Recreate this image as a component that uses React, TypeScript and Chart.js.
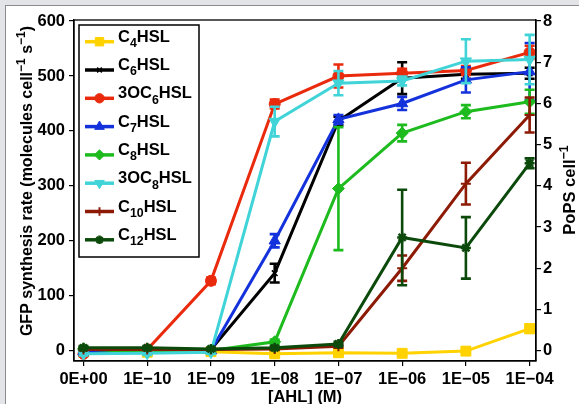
import React, { useEffect, useRef } from 'react';
import { Chart, registerables } from 'chart.js';
import { drawPoint } from 'chart.js/helpers';

Chart.register(...registerables);

// ---------- data ----------
const categories = ['0E+00', '1E−10', '1E−09', '1E−08', '1E−07', '1E−06', '1E−05', '1E−04'];
const yTicks = [0, 100, 200, 300, 400, 500, 600];
const y2Ticks = [0, 1, 2, 3, 4, 5, 6, 7, 8];

const seriesNames = ['C4HSL', 'C6HSL', '3OC6HSL', 'C7HSL', 'C8HSL', '3OC8HSL', 'C10HSL', 'C12HSL'];

const c4 = [-3, -3, -2, -6, -4, -5, -1, 40];
const c4Err = [3, 3, 2, 3, 4, 3, 3, 8];
const c6 = [2, 0, 2, 141, 418, 496, 503, 505];
const c6Err = [2, 2, 2, 17, 8, 29, 8, 10];
const oc6 = [-6, 2, 127, 449, 500, 505, 510, 543];
const oc6Err = [3, 3, 6, 8, 21, 8, 8, 12];
const c7 = [-2, 0, 0, 200, 421, 450, 493, 508];
const c7Err = [3, 3, 3, 12, 8, 12, 23, 52];
const c8 = [3, -3, 0, 16, 295, 396, 435, 453];
const c8Err = [3, 3, 2, 4, 112, 15, 12, 22];
const oc8 = [-6, -5, -3, 417, 487, 491, 527, 530];
const oc8Err = [3, 3, 3, 27, 22, 8, 40, 45];
const c10 = [2, 2, 2, 3, 8, 150, 304, 429];
const c10Err = [2, 2, 2, 2, 3, 23, 38, 32];
const c12 = [5, 5, 3, 5, 12, 206, 187, 341];
const c12Err = [3, 3, 2, 3, 4, 87, 56, 9];

const seriesValues = [c4, c6, oc6, c7, c8, oc8, c10, c12];
const seriesErrors = [c4Err, c6Err, oc6Err, c7Err, c8Err, oc8Err, c10Err, c12Err];

// ---------- styles ----------
const seriesStyles = [
  { color: '#FFD200', point: 'rect', radius: 7, rot: 0, bw: 1 },
  { color: '#000000', point: 'crossRot', radius: 4, rot: 0, bw: 1.6 },
  { color: '#EA2A0C', point: 'circle', radius: 5.5, rot: 0, bw: 1 },
  { color: '#1432DC', point: 'triangle', radius: 6.5, rot: 0, bw: 1 },
  { color: '#1EBB1E', point: 'rectRot', radius: 6, rot: 0, bw: 1 },
  { color: '#40D4D8', point: 'triangle', radius: 6.5, rot: 180, bw: 1 },
  { color: '#8C1A05', point: 'cross', radius: 5, rot: 0, bw: 2 },
  { color: '#0C4A0C', point: 'star', radius: 5, rot: 0, bw: 2.5 },
];

const FAMILY = '"Liberation Sans", Arial, Helvetica, sans-serif';
const font = (size: number) => `bold ${size}px ${FAMILY}`;

type Seg = { t: string; sub?: boolean; sup?: boolean };

function nameSegs(name: string): Seg[] {
  const m = name.match(/^(.*C)(\d+)(HSL)$/);
  if (!m) return [{ t: name }];
  return [{ t: m[1] }, { t: m[2], sub: true }, { t: m[3] }];
}

const leftTitle: Seg[] = [
  { t: 'GFP synthesis rate (molecules cell' },
  { t: '−1', sup: true },
  { t: ' s' },
  { t: '−1', sup: true },
  { t: ')' },
];
const rightTitle: Seg[] = [{ t: 'PoPS cell' }, { t: '−1', sup: true }];
const bottomTitle = '[AHL] (M)';

function richWidth(ctx: CanvasRenderingContext2D, segs: Seg[], size: number) {
  let w = 0;
  for (const s of segs) {
    ctx.font = font(s.sub || s.sup ? size * 0.75 : size);
    w += ctx.measureText(s.t).width;
  }
  return w;
}

function drawRich(ctx: CanvasRenderingContext2D, segs: Seg[], x: number, y: number, size: number) {
  let cx = x;
  ctx.textAlign = 'left';
  ctx.textBaseline = 'alphabetic';
  for (const s of segs) {
    const sz = s.sub || s.sup ? size * 0.75 : size;
    ctx.font = font(sz);
    const dy = s.sub ? size * 0.33 : s.sup ? -size * 0.42 : 0;
    ctx.fillText(s.t, cx, y + dy);
    cx += ctx.measureText(s.t).width;
  }
}

const decoPlugin = {
  id: 'deco',
  afterDatasetDraw(chart: any, args: any) {
    const i = args.index;
    const errs = seriesErrors[i];
    const vals = seriesValues[i];
    const xs = chart.scales.x;
    const ys = chart.scales.y;
    const ctx: CanvasRenderingContext2D = chart.ctx;
    const area = chart.chartArea;
    ctx.save();
    ctx.beginPath();
    ctx.rect(area.left, area.top - 20, area.right - area.left, area.bottom - area.top + 20);
    ctx.clip();
    ctx.strokeStyle = seriesStyles[i].color;
    ctx.lineWidth = 2.6;
    for (let j = 0; j < vals.length; j++) {
      const x = xs.getPixelForValue(j);
      const yt = ys.getPixelForValue(vals[j] + errs[j]);
      const yb = ys.getPixelForValue(vals[j] - errs[j]);
      ctx.beginPath();
      ctx.moveTo(x, yt);
      ctx.lineTo(x, yb);
      ctx.moveTo(x - 5, yt);
      ctx.lineTo(x + 5, yt);
      ctx.moveTo(x - 5, yb);
      ctx.lineTo(x + 5, yb);
      ctx.stroke();
    }
    ctx.restore();
  },
  afterDraw(chart: any) {
    const ctx: CanvasRenderingContext2D = chart.ctx;
    const a = chart.chartArea;
    ctx.save();
    // plot box
    ctx.strokeStyle = '#000';
    ctx.lineWidth = 1.3;
    ctx.strokeRect(a.left, a.top, a.right - a.left, a.bottom - a.top);

    // legend
    const lx = 79, ly = 25, lw = 120, lh = 232;
    ctx.fillStyle = '#fff';
    ctx.fillRect(lx, ly, lw, lh);
    ctx.lineWidth = 1.5;
    ctx.strokeStyle = '#000';
    ctx.strokeRect(lx, ly, lw, lh);
    for (let i = 0; i < seriesNames.length; i++) {
      const st = seriesStyles[i];
      const y = 41.7 + i * 28.3;
      ctx.strokeStyle = st.color;
      ctx.lineWidth = 3.5;
      ctx.beginPath();
      ctx.moveTo(85, y);
      ctx.lineTo(114, y);
      ctx.stroke();
      ctx.fillStyle = st.color;
      ctx.strokeStyle = st.color;
      ctx.lineWidth = st.bw;
      drawPoint(ctx, { pointStyle: st.point, rotation: st.rot, radius: st.radius * 0.85, borderWidth: st.bw } as any, 99.5, y);
      ctx.fillStyle = '#000';
      drawRich(ctx, nameSegs(seriesNames[i]), 118, y, 16.5);
    }

    ctx.fillStyle = '#000';
    // left title
    const lsz = 16;
    const lwid = richWidth(ctx, leftTitle, lsz);
    ctx.save();
    ctx.translate(32, 181);
    ctx.rotate(-Math.PI / 2);
    drawRich(ctx, leftTitle, -lwid / 2, 0, lsz);
    ctx.restore();

    // right title
    const rsz = 16.5;
    const rwid = richWidth(ctx, rightTitle, rsz);
    ctx.save();
    ctx.translate(575, 190);
    ctx.rotate(-Math.PI / 2);
    drawRich(ctx, rightTitle, -rwid / 2, 0, rsz);
    ctx.restore();

    // bottom title
    ctx.font = font(16.5);
    ctx.textAlign = 'center';
    ctx.textBaseline = 'alphabetic';
    ctx.fillText(bottomTitle, (a.left + a.right) / 2, 402);
    ctx.restore();
  },
};

const tickFont = { family: FAMILY, size: 16.5, weight: 'bold' as const };

export default function App() {
  const ref = useRef<HTMLCanvasElement>(null);
  useEffect(() => {
    document.body.style.margin = '0';
    const canvas = ref.current;
    if (!canvas) return;
    const datasets = seriesNames.map((name, i) => {
      const st = seriesStyles[i];
      return {
        label: name,
        data: seriesValues[i].map((v, j) => ({ x: j, y: v })),
        borderColor: st.color,
        backgroundColor: st.color,
        borderWidth: 3,
        pointStyle: st.point,
        pointRotation: st.rot,
        pointRadius: st.radius,
        pointBorderWidth: st.bw,
        pointBackgroundColor: st.color,
        pointBorderColor: st.color,
        tension: 0,
        order: seriesNames.length - 1 - i,
        yAxisID: 'y',
      };
    });
    const chart = new Chart(canvas, {
      type: 'line',
      data: { datasets: datasets as any },
      plugins: [decoPlugin as any],
      options: {
        animation: false,
        responsive: false,
        layout: { padding: { top: 20, left: 0, right: 0, bottom: 0 } },
        plugins: { legend: { display: false }, tooltip: { enabled: false }, title: { display: false } },
        scales: {
          x: {
            type: 'linear',
            min: -0.149,
            max: 7.1,
            afterBuildTicks: (s: any) => {
              s.ticks = categories.map((_, i) => ({ value: i }));
            },
            afterFit: (s: any) => {
              s.height = 43;
            },
            ticks: {
              callback: (v: any) => categories[v as number] ?? '',
              color: '#000',
              font: tickFont,
              padding: 4,
              maxRotation: 0,
              autoSkip: false,
            },
            grid: { drawOnChartArea: false, drawTicks: true, tickLength: 5, color: '#000', lineWidth: 1.2 },
            border: { display: true, color: '#000', width: 1.3 },
          },
          y: {
            type: 'linear',
            position: 'left',
            min: -19,
            max: 602,
            afterBuildTicks: (s: any) => {
              s.ticks = yTicks.map((v) => ({ value: v }));
            },
            afterFit: (s: any) => {
              s.width = 74;
            },
            ticks: { color: '#000', font: tickFont, padding: 4 },
            grid: { drawOnChartArea: false, drawTicks: true, tickLength: 5, color: '#000', lineWidth: 1.2 },
            border: { display: true, color: '#000', width: 1.3 },
          },
          y2: {
            type: 'linear',
            position: 'right',
            min: -19 / 75,
            max: 602 / 75,
            afterBuildTicks: (s: any) => {
              s.ticks = y2Ticks.map((v) => ({ value: v }));
            },
            afterFit: (s: any) => {
              s.width = 43;
            },
            ticks: { color: '#000', font: tickFont, padding: 2 },
            grid: { drawOnChartArea: false, drawTicks: true, tickLength: 5, color: '#000', lineWidth: 1.2 },
            border: { display: true, color: '#000', width: 1.3 },
          },
        },
      } as any,
    });
    return () => chart.destroy();
  }, []);

  return (
    <div style={{ position: 'relative', width: 579, height: 404, background: '#e3e4e8', overflow: 'hidden' }}>
      <div
        style={{
          position: 'absolute',
          left: 5,
          top: 5,
          right: 0,
          bottom: 0,
          background: '#fff',
          borderLeft: '1px solid #8a8b8f',
          borderTop: '1px solid #8a8b8f',
        }}
      />
      <canvas
        ref={ref}
        width={579}
        height={404}
        style={{ position: 'absolute', left: 0, top: 0, width: 579, height: 404 }}
      />
    </div>
  );
}
